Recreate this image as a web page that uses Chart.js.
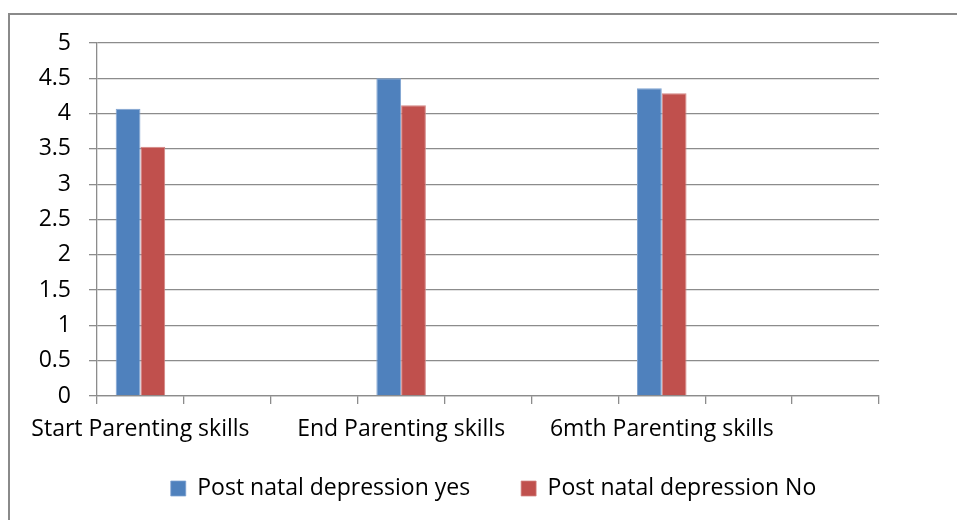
<!DOCTYPE html>
<html>
<head>
<meta charset="utf-8">
<script src="https://cdn.jsdelivr.net/npm/chart.js@4/dist/chart.umd.min.js"></script>
<style>
  html, body { margin: 0; padding: 0; background: #fff; }
  #wrap { position: relative; width: 957px; height: 520px; }
  #frame { position: absolute; left: 8px; top: 13px; right: 0; bottom: 0;
           border-top: 2px solid #8a8a8a; border-left: 2px solid #8a8a8a; }
  #myChart { position: absolute; left: 0; top: 0; }
</style>
</head>
<body>
<div id="wrap">
  <div id="frame"></div>
  <canvas id="myChart" width="957" height="520"></canvas>
</div>
<script>
// categories (Excel left gaps between the three groups)
const categories = ['Start Parenting skills', '', '', 'End Parenting skills', '', '', '6mth Parenting skills', '', ''];
// series values
const pndYes = [4.07, null, null, 4.5, null, null, 4.36, null, null];
const pndNo = [3.53, null, null, 4.12, null, null, 4.29, null, null];
// y tick labels
const yTicks = [0, 0.5, 1, 1.5, 2, 2.5, 3, 3.5, 4, 4.5, 5];

const font = { family: 'Open Sans', size: 23 };
const gridColor = '#8c8c8c';
const plotBottom = 396;
const padBottom = 13;

const ctx = document.getElementById('myChart').getContext('2d');

//move legend right/down like the excel one, and give x labels room
const tweakLayout = {
    id: 'tweakLayout',
    afterLayout(chart) {
        const lg = chart.legend;
        lg.left += 54;
        lg.right += 54;
        lg.top += 3;
        lg.bottom += 3;
        const x = chart.scales.x;
        x.height = 71;
        x.bottom = x.top + 71;
    }
};

const data = {
    labels: categories,
    datasets: [{
        label: 'Post natal depression yes',
        data: pndYes,
        backgroundColor: '#4F81BD',
        borderColor: '#7FA3D1',
        borderWidth: { left: 1, right: 1, top: 1, bottom: 0 },
        categoryPercentage: 0.57,
        barPercentage: 1
    }, {
        label: 'Post natal depression No',
        data: pndNo,
        backgroundColor: '#C0504D',
        borderColor: '#D38583',
        borderWidth: { left: 1, right: 1, top: 1, bottom: 0 },
        categoryPercentage: 0.57,
        barPercentage: 1
    }]
};

const config = {
    type: 'bar',
    data,
    plugins: [tweakLayout],
    options: {
        responsive: false,
        animation: false,
        layout: { padding: { top: 43, right: 78, bottom: padBottom, left: 0 } },
        scales: {
            x: {
                offset: true,
                grid: { offset: true, drawOnChartArea: false, drawTicks: true, tickLength: 8, color: gridColor, lineWidth: 1.3 },
                border: { color: gridColor, width: 1.3 },
                ticks: { color: '#000', font, autoSkip: false, maxRotation: 0, padding: 12 },
                afterFit: s => { s.height = 520 - padBottom - s.chart.legend.height - plotBottom; }
            },
            y: {
                min: 0,
                max: 5,
                afterBuildTicks: s => { s.ticks = yTicks.map(v => ({ value: v })); },
                grid: { color: gridColor, lineWidth: 1.3, tickLength: 8 },
                border: { color: gridColor, width: 1.3 },
                ticks: { color: '#000', font, padding: 18, callback: v => String(v) },
                afterFit: s => { s.width = 97; }
            }
        },
        plugins: {
            tooltip: { enabled: false },
            legend: {
                position: 'bottom',
                labels: { color: '#000', font, boxWidth: 15, boxHeight: 15, padding: 51 }
            }
        }
    }
};

let myChart = new Chart(ctx, config);
</script>
</body>
</html>
